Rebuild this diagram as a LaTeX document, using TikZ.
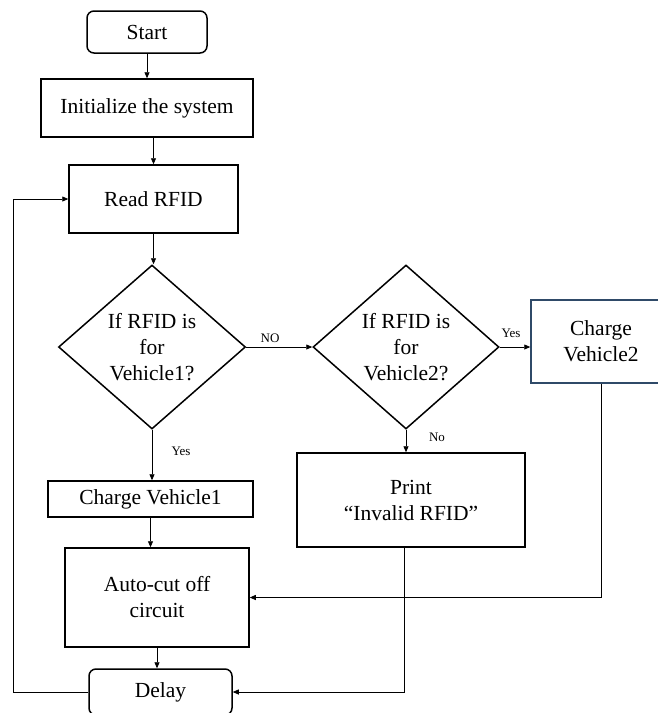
\documentclass[tikz,border=0pt]{standalone}
\usepackage{fontspec}
\setmainfont{Liberation Serif}
\usetikzlibrary{shapes.geometric,arrows.meta}
\definecolor{slateblue}{HTML}{2F4A68}
\begin{document}
\begin{tikzpicture}[x=1pt,y=-1pt,
  txt/.style={font=\fontsize{21.5}{26}\selectfont,align=center},
  box/.style={txt,draw,line width=1.5pt,inner sep=0pt},
  rbox/.style={box,rounded corners=7pt},
  dia/.style={txt,draw,shape=diamond,line width=1.5pt,inner sep=0pt,aspect=1.14},
  lab/.style={font=\fontsize{13}{15}\selectfont,inner sep=0pt},
  conn/.style={line width=0.8pt,-{Triangle[length=6pt,width=5pt]}},
  line/.style={line width=0.8pt}]
\useasboundingbox (0,0) rectangle (658,713);
\clip (0,0) rectangle (658,713);
\fill[white] (0,0) rectangle (658,713);

\node[rbox,minimum width=120pt,minimum height=42pt] (start) at (147,32) {Start};
\node[box,minimum width=212pt,minimum height=58pt] (init) at (147,108) {Initialize the system};
\node[box,minimum width=169pt,minimum height=68pt] (read) at (153.5,199) {Read RFID};
\node[dia,minimum width=187pt,minimum height=164pt] (d1) at (152,347) {If RFID is\\for\\Vehicle1?};
\node[dia,minimum width=186pt,minimum height=164pt] (d2) at (406,347) {If RFID is\\for\\Vehicle2?};
\node[box,draw=slateblue,minimum width=140pt,minimum height=83pt] (cv2) at (601,341.5) {Charge\\Vehicle2};
\node[box,minimum width=205pt,minimum height=36pt] (cv1) at (150.5,499) {Charge Vehicle1};
\node[box,minimum width=228pt,minimum height=94pt] (print) at (411,500) {Print\\``Invalid RFID''};
\node[box,minimum width=184pt,minimum height=99pt] (auto) at (157,597.5) {Auto-cut off\\circuit};
\node[rbox,minimum width=143pt,minimum height=46pt] (delay) at (160.5,692) {Delay};

\node[lab] (lno) at (270,338) {NO};
\node[lab] (lyes1) at (181,451) {Yes};
\node[lab] (lyes2) at (511,333) {Yes};
\node[lab] (lno2) at (437,437) {No};

\coordinate (loopx) at (13,692);

\draw[conn] (start) -- (start |- init.north);
\draw[conn] (read.north |- init.south) -- (read.north);
\draw[conn] (read.south) -- (read.south |- d1.north);
\draw[conn] (d1.east) -- (d1.east -| d2.west);
\draw[conn] (d2.east) -- (d2.east -| cv2.west);
\draw[conn] (d1.south) -- (d1.south |- cv1.north);
\draw[conn] (d2.south) -- (d2.south |- print.north);
\draw[conn] (cv1.south) -- (cv1.south |- auto.north);
\draw[conn] (auto.south) -- (auto.south |- delay.north);
\draw[conn] (cv2.south) |- (auto.east);
\draw[conn] ([xshift=-7pt]print.south) |- (delay.east);
\draw[conn] (delay.west) -- (loopx) |- (read.west);
\end{tikzpicture}
\end{document}
